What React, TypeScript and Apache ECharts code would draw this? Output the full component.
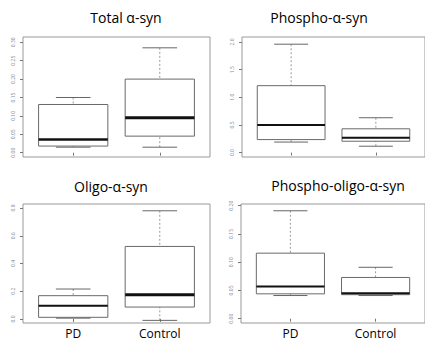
import React, { useEffect, useRef } from "react";
import * as echarts from "echarts";

// Group positions on the x scale (R boxplot style: 1 and 2)
const groups = ["PD", "Control"];
const groupPos = [1, 2];

// Box summaries: [lower whisker, Q1, median, Q3, upper whisker]
const totalPD = [0.015, 0.018, 0.036, 0.131, 0.15];
const totalControl = [0.015, 0.045, 0.095, 0.2, 0.285];
const phosphoPD = [0.19, 0.235, 0.5, 1.21, 1.96];
const phosphoControl = [0.115, 0.205, 0.27, 0.43, 0.63];
const oligoPD = [0.006, 0.012, 0.096, 0.168, 0.216];
const oligoControl = [-0.01, 0.086, 0.175, 0.523, 0.78];
const phosphoOligoPD = [0.041, 0.044, 0.057, 0.116, 0.191];
const phosphoOligoControl = [0.041, 0.0425, 0.045, 0.073, 0.091];

// Y tick values
const totalTicks = [0, 0.05, 0.1, 0.15, 0.2, 0.25, 0.3];
const phosphoTicks = [0, 0.5, 1, 1.5, 2];
const oligoTicks = [0, 0.2, 0.4, 0.6, 0.8];
const phosphoOligoTicks = [0, 0.05, 0.1, 0.15, 0.2];

const titles = ["Total α-syn", "Phospho-α-syn", "Oligo-α-syn", "Phospho-oligo-α-syn"];

const panels = [
  { pd: totalPD, ctl: totalControl, ticks: totalTicks, dec: 2, yMin: -0.0117, yMax: 0.3144,
    grid: { left: 23, top: 37, width: 187, height: 120 }, med: [2.5, 3], showX: false,
    title: { x: 126, y: 17 } },
  { pd: phosphoPD, ctl: phosphoControl, ticks: phosphoTicks, dec: 1, yMin: -0.08, yMax: 2.09,
    grid: { left: 242, top: 37, width: 187, height: 120 }, med: [2, 2], showX: false,
    title: { x: 319, y: 17 } },
  { pd: oligoPD, ctl: oligoControl, ticks: oligoTicks, dec: 1, yMin: -0.029, yMax: 0.829,
    grid: { left: 23, top: 204, width: 187, height: 119 }, med: [2, 3], showX: true,
    title: { x: 111, y: 186 } },
  { pd: phosphoOligoPD, ctl: phosphoOligoControl, ticks: phosphoOligoTicks, dec: 2, yMin: -0.0076, yMax: 0.203,
    grid: { left: 241, top: 204, width: 187, height: 119 }, med: [2, 2], showX: true,
    title: { x: 338, y: 185 } },
];

const FONT = "'Open Sans', 'Noto Sans', sans-serif";

function makeRender(medWidths: number[]) {
  return (params: any, api: any) => {
    const x = api.value(0);
    const lo = api.value(1);
    const q1 = api.value(2);
    const med = api.value(3);
    const q3 = api.value(4);
    const hi = api.value(5);
    const tl = api.coord([x - 0.4, q3]);
    const br = api.coord([x + 0.4, q1]);
    const mL = api.coord([x - 0.4, med]);
    const mR = api.coord([x + 0.4, med]);
    const top = api.coord([x, q3]);
    const bot = api.coord([x, q1]);
    const pHi = api.coord([x, hi]);
    const pLo = api.coord([x, lo]);
    const cHiL = api.coord([x - 0.2, hi]);
    const cHiR = api.coord([x + 0.2, hi]);
    const cLoL = api.coord([x - 0.2, lo]);
    const cLoR = api.coord([x + 0.2, lo]);
    const mw = medWidths[params.dataIndex] || 2;
    const whisk = { stroke: "#9a9a9a", lineWidth: 1, lineDash: [2, 2] };
    const cap = { stroke: "#666", lineWidth: 1 };
    return {
      type: "group",
      children: [
        { type: "line", shape: { x1: pHi[0], y1: pHi[1], x2: top[0], y2: top[1] }, style: whisk },
        { type: "line", shape: { x1: pLo[0], y1: pLo[1], x2: bot[0], y2: bot[1] }, style: whisk },
        { type: "line", shape: { x1: cHiL[0], y1: cHiL[1], x2: cHiR[0], y2: cHiR[1] }, style: cap },
        { type: "line", shape: { x1: cLoL[0], y1: cLoL[1], x2: cLoR[0], y2: cLoR[1] }, style: cap },
        {
          type: "rect",
          shape: { x: tl[0], y: tl[1], width: br[0] - tl[0], height: br[1] - tl[1] },
          style: { fill: "transparent", stroke: "#6a6a6a", lineWidth: 1 },
        },
        {
          type: "line",
          shape: { x1: mL[0], y1: mL[1], x2: mR[0], y2: mR[1] },
          style: { stroke: "#111", lineWidth: mw },
        },
      ],
    };
  };
}

export default function App() {
  const ref = useRef<HTMLDivElement>(null);
  useEffect(() => {
    if (!ref.current) return;
    const chart = echarts.init(ref.current, undefined, { renderer: "svg" });
    const option: any = {
      animation: false,
      backgroundColor: "#fff",
      grid: panels.map((p) => ({
        ...p.grid,
        show: true,
        borderColor: "#999",
        borderWidth: 1,
        containLabel: false,
      })),
      xAxis: panels.map((p, i) => ({
        type: "value",
        gridIndex: i,
        min: 0.42,
        max: 2.58,
        axisLine: { show: false },
        splitLine: { show: false },
        axisTick: { show: true, customValues: groupPos, length: 3, lineStyle: { color: "#777" } },
        axisLabel: {
          show: p.showX,
          customValues: groupPos,
          margin: 4,
          fontSize: 12,
          fontFamily: FONT,
          color: "#000",
          formatter: (v: number) => groups[groupPos.indexOf(Math.round(v))] || "",
        },
      })),
      yAxis: panels.map((p, i) => ({
        type: "value",
        gridIndex: i,
        min: p.yMin,
        max: p.yMax,
        axisLine: { show: false },
        splitLine: { show: false },
        axisTick: { show: true, customValues: p.ticks, length: 3, lineStyle: { color: "#777" } },
        axisLabel: {
          customValues: p.ticks,
          rotate: 90,
          margin: 8,
          fontSize: 5,
          fontFamily: FONT,
          color: "#7d8595",
          formatter: (v: number) => v.toFixed(p.dec),
        },
      })),
      series: panels.map((p, i) => ({
        type: "custom",
        xAxisIndex: i,
        yAxisIndex: i,
        renderItem: makeRender(p.med),
        encode: { x: 0, y: [1, 2, 3, 4, 5] },
        data: [
          [groupPos[0], ...p.pd],
          [groupPos[1], ...p.ctl],
        ],
        clip: false,
      })),
      graphic: panels.map((p, i) => ({
        type: "text",
        x: p.title.x,
        y: p.title.y,
        style: {
          text: titles[i],
          fontSize: 14,
          fontFamily: FONT,
          fill: "#000",
          align: "center",
          verticalAlign: "middle",
        },
      })),
    };
    chart.setOption(option);
    return () => chart.dispose();
  }, []);
  return (
    <div
      ref={ref}
      style={{ position: "fixed", left: 0, top: 0, width: 425, height: 347, background: "#fff" }}
    />
  );
}
